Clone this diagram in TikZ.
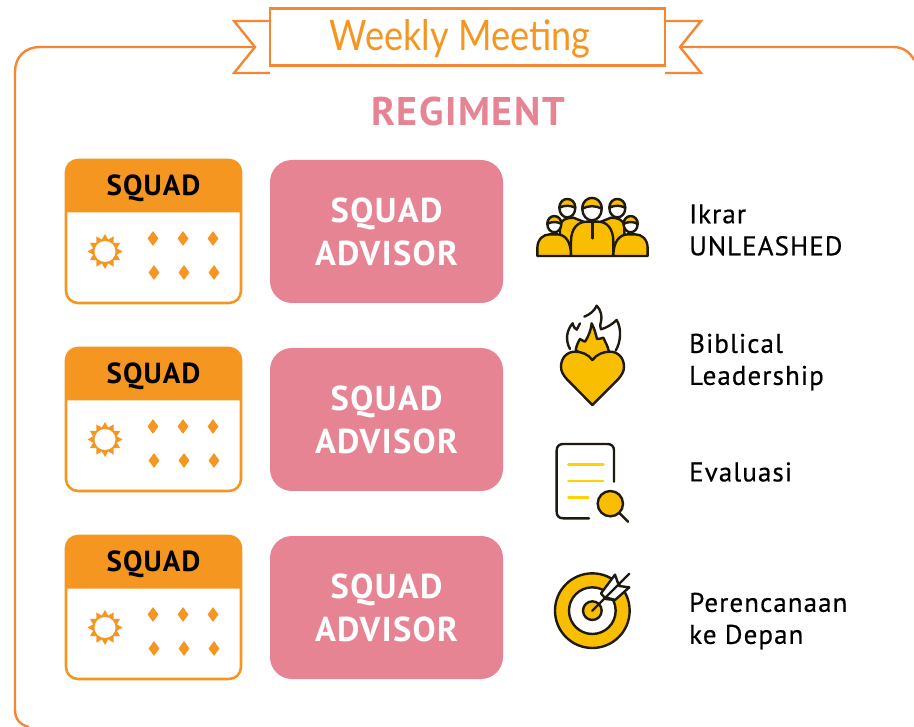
\documentclass[tikz,border=0pt]{standalone}
\usepackage{fontspec}
\usepackage{tikz}
\usetikzlibrary{positioning,shapes.geometric}
\setmainfont{PT Sans}
\newfontfamily\dinfont[LetterSpace=4]{PT Sans}
\newfontfamily\topicfont[LetterSpace=4,FakeBold=0.5]{PT Sans}
\newfontfamily\weeklyfont[FakeStretch=0.86]{Lato}
\definecolor{ribbonorange}{HTML}{F58634}
\definecolor{squadorange}{HTML}{F59621}
\definecolor{advisorpink}{HTML}{E68493}
\definecolor{iconyellow}{HTML}{F9BE00}
\definecolor{lineyellow}{HTML}{FFD200}
\definecolor{iconblack}{HTML}{1E1A0F}

\begin{document}
\begin{tikzpicture}[x=1pt,y=-1pt,
    head/.pic={
      \draw[icon, fill=white] (0,0) ellipse (29 and 33);
      \draw[icon, fill=iconyellow] (-29,-2) .. controls (-29,-45) and (29,-45) .. (29,-2) .. controls (10,-12) and (-10,-12) .. cycle;
    },
    squadcard/.pic={
      \node[squad] (-card) at (0,0) {};
      \fill[squadorange] (-87.5,-19) -- (-87.5,-59.5) [rounded corners=12] -- (-87.5,-71.5) -- (87.5,-71.5) [sharp corners] -- (87.5,-59.5) -- (87.5,-19) -- cycle;
      \node[squadtitle] (-title) at (0,-43.5) {SQUAD};
      \node[sunray] (-ray) at (-48.5,20) {};
      \node[sunface] (-sun) at (-48.5,20) {};
      \node[gem] (-a) at (-0.5,7) {};
      \node[gem] (-b) at (29.5,7) {};
      \node[gem] (-c) at (59.5,7) {};
      \node[gem] (-d) at (0.5,41) {};
      \node[gem] (-e) at (30.5,41) {};
      \node[gem] (-f) at (60.5,41) {};
    }]
    \tikzstyle{frame}=[draw=ribbonorange, line width=2.4pt]
    \tikzstyle{squad}=[rectangle, rounded corners=12, draw=squadorange, line width=2.6pt, minimum width=175pt, minimum height=143pt]
    \tikzstyle{squadtitle}=[font=\fontsize{29}{29}\selectfont\bfseries\dinfont, text=black]
    \tikzstyle{sunray}=[star, star points=12, star point ratio=1.42, fill=squadorange, minimum size=35pt, inner sep=0pt]
    \tikzstyle{sunface}=[circle, fill=white, minimum size=21pt, inner sep=0pt]
    \tikzstyle{gem}=[diamond, aspect=0.72, fill=squadorange, minimum width=11pt, minimum height=15pt, inner sep=0pt]
    \tikzstyle{advisor}=[rectangle, rounded corners=22, fill=advisorpink, text=white, align=center, minimum width=233pt, minimum height=143pt, font=\fontsize{34.5}{43}\selectfont\bfseries\dinfont, node distance=27.5pt]
    \tikzstyle{topic}=[anchor=west, align=left, inner sep=0pt, font=\fontsize{27}{32}\selectfont\topicfont]
    \tikzstyle{icon}=[draw=iconblack, line width=2.4pt, line join=round, line cap=round]

      \useasboundingbox (0,0) rectangle (914,727);

      % frame and ribbon
      \coordinate (notchleft) at (255,47);
      \coordinate (notchright) at (680,47);
      \draw[frame] (notchleft) -- (40,47) .. controls (25,47) and (15,57) .. (15,72) -- (15,710) .. controls (15,719) and (20,725) .. (29,727);
      \draw[frame] (notchright) -- (893,47) .. controls (903,47) and (910,52) .. (914,60);
      \draw[frame] (270,21) -- (234,21) -- (notchleft) -- (234,73) -- (270,73);
      \draw[frame] (665,21) -- (701,21) -- (notchright) -- (701,73) -- (665,73);
      \node[frame, rectangle, minimum width=395pt, minimum height=57pt, inner sep=0pt] (ribbon) at (467.5,37) {};
      \node[text=squadorange] (weekly) at (460,39) {\fontsize{42}{42}\selectfont\weeklyfont Weekly Meeting};
      \node[text=advisorpink] (regiment) at (468,112) {\fontsize{40}{40}\selectfont\bfseries\dinfont REGIMENT};

      % rows
      \pic (squad1) at (153.5,231.5) {squadcard};
      \pic (squad2) at (153.5,419.5) {squadcard};
      \pic (squad3) at (153.5,607.5) {squadcard};
      \node[advisor] (advisor1) [right=of squad1-card] {SQUAD\\ADVISOR};
      \node[advisor] (advisor2) [right=of squad2-card] {SQUAD\\ADVISOR};
      \node[advisor] (advisor3) [right=of squad3-card] {SQUAD\\ADVISOR};

      % topics
      \node[topic] (ikrar) at (689,230) {Ikrar\\UNLEASHED};
      \node[topic] (biblical) at (689,362) {Biblical\\Leadership};
      \node[topic] (evaluasi) at (689,472) {Evaluasi};
      \node[topic] (rencana) at (689,621) {Perencanaan\\ke Depan};

      % people
      \begin{scope}[shift={(525,185)},scale=1/3]
        \draw[icon, fill=iconyellow] (105,205) -- (105,125) .. controls (105,105) and (125,98) .. (145,98) -- (175,110) -- (175,205) -- cycle;
        \draw[icon, fill=iconyellow] (298,205) -- (298,125) .. controls (298,105) and (278,98) .. (258,98) -- (228,110) -- (228,205) -- cycle;
        \pic[transform shape,scale=0.82] at (127,70) {head};
        \pic[transform shape,scale=0.82] at (277,70) {head};
        \draw[icon, fill=iconyellow] (138,213) -- (138,170) .. controls (138,128) and (160,110) .. (185,110) -- (220,110) .. controls (245,110) and (265,130) .. (265,170) -- (265,213) -- cycle;
        \draw[icon] (202,115) -- (202,160);
        \pic[transform shape] at (201,73) {head};
        \draw[icon, fill=iconyellow] (37,213) -- (37,190) .. controls (37,162) and (55,148) .. (75,148) -- (95,148) .. controls (122,148) and (138,170) .. (138,213) -- cycle;
        \draw[icon, fill=iconyellow] (368,213) -- (368,190) .. controls (368,162) and (350,148) .. (330,148) -- (310,148) .. controls (283,148) and (265,170) .. (265,213) -- cycle;
        \pic[transform shape,scale=0.72] at (88,118) {head};
        \pic[transform shape,scale=0.72] at (317,118) {head};
      \end{scope}

      % heart
      \begin{scope}[shift={(525,185)},scale=1/3]
        \draw[icon] (135,492) .. controls (120,465) and (125,435) .. (143,415) .. controls (145,425) and (150,432) .. (155,434) .. controls (158,428) and (162,422) .. (165,415);
        \draw[icon] (178,395) .. controls (195,388) and (208,378) .. (215,362) .. controls (228,375) and (232,395) .. (228,410) .. controls (225,420) and (225,428) .. (228,433) .. controls (245,428) and (262,418) .. (275,405) .. controls (290,430) and (288,470) .. (272,497);
        \draw[icon, fill=iconyellow] (152,495) .. controls (155,480) and (160,470) .. (165,462) .. controls (170,465) and (175,468) .. (180,470) .. controls (190,455) and (198,435) .. (200,415) .. controls (208,430) and (212,445) .. (216,462) .. controls (222,462) and (230,460) .. (235,458) .. controls (240,470) and (250,485) .. (252,502) -- (202,530) -- cycle;
        \draw[icon, fill=iconyellow] (202,525) .. controls (190,508) and (170,500) .. (150,500) .. controls (125,500) and (108,520) .. (108,545) .. controls (108,560) and (115,570) .. (125,582) -- (202,660) -- (280,582) .. controls (290,570) and (297,560) .. (297,545) .. controls (297,520) and (280,500) .. (255,500) .. controls (235,500) and (215,508) .. (202,525) -- cycle;
      \end{scope}

      % document
      \begin{scope}[shift={(535,430)},scale=1/3]
        \draw[icon] (162,265) -- (85,265) .. controls (72,265) and (65,258) .. (65,245) -- (65,62) .. controls (65,49) and (72,42) .. (85,42) -- (217,42) .. controls (230,42) and (237,49) .. (237,62) -- (237,155);
        \draw[draw=lineyellow, line width=2.4pt, line cap=round] (100,103) -- (205,103) (100,153) -- (205,153) (100,203) -- (160,203);
        \draw[icon] (252,248) -- (279,275);
        \draw[icon, fill=iconyellow] (226,221) circle (38);
      \end{scope}

      % target
      \begin{scope}[shift={(535,430)},scale=1/3]
        \draw[icon, fill=iconyellow] (172,542) circle (112);
        \draw[icon, fill=white] (172,542) circle (70);
        \draw[icon, fill=iconyellow] (172,542) circle (28);
        \draw[icon, fill=white] (212,507) -- (198,490) -- (240,434) -- (252,468) -- (283,472) -- (240,510) -- (212,507) -- cycle;
        \draw[icon] (172,542) -- (283,431);
        \draw[icon] (212,502) -- (240,510);
      \end{scope}
    \end{tikzpicture}
\end{document}
